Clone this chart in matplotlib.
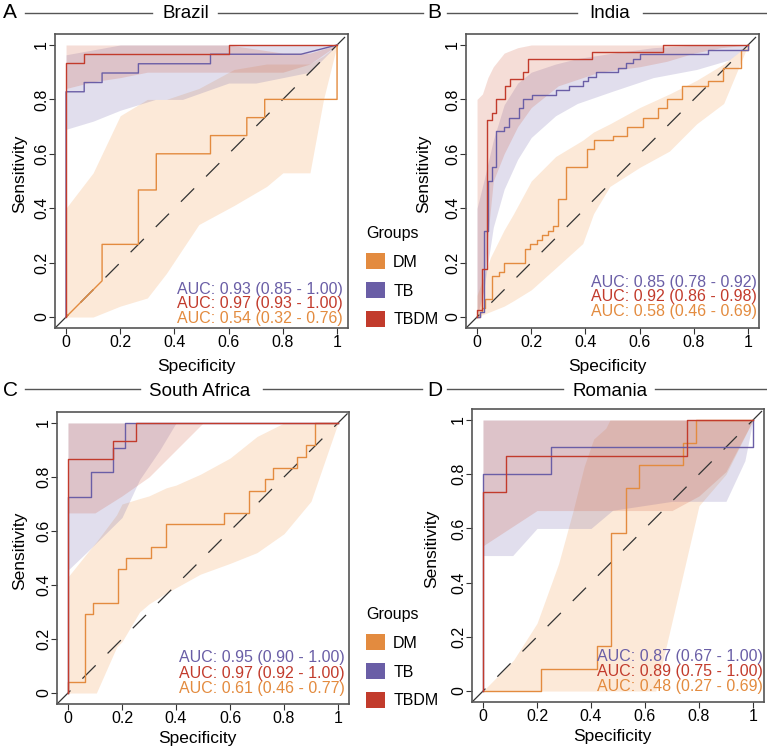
import matplotlib
matplotlib.use("Agg")
import matplotlib.pyplot as plt
from matplotlib.lines import Line2D
from matplotlib.patches import Patch

plt.rcParams["font.family"] = ["Liberation Sans", "DejaVu Sans"]

W, H = 767, 749
groups = ["DM", "TB", "TBDM"]
line_cols = {"DM": "#E38B3F", "TB": "#6A5EA6", "TBDM": "#C23B2C"}
fill_cols = {"DM": "#F0923F", "TB": "#6A5EA6", "TBDM": "#D0583A"}
tick_vals = [0, 0.2, 0.4, 0.6, 0.8, 1]
tick_labs = ["0", "0.2", "0.4", "0.6", "0.8", "1"]

# ---- Brazil ----
br_dm_fpr = [0, 0.133, 0.133, 0.267, 0.267, 0.333, 0.333, 0.533, 0.533, 0.667, 0.667, 0.733, 0.733, 1.0, 1.0]
br_dm_tpr = [0, 0.133, 0.267, 0.267, 0.467, 0.467, 0.6, 0.6, 0.667, 0.667, 0.733, 0.733, 0.8, 0.8, 1.0]
br_tb_fpr = [0, 0, 0.067, 0.067, 0.133, 0.133, 0.267, 0.267, 0.533, 0.533, 0.867, 1.0]
br_tb_tpr = [0, 0.828, 0.828, 0.862, 0.862, 0.897, 0.897, 0.931, 0.931, 0.966, 0.966, 1.0]
br_tbdm_fpr = [0, 0, 0.067, 0.067, 0.6, 0.6, 1.0]
br_tbdm_tpr = [0, 0.933, 0.933, 0.967, 0.967, 1.0, 1.0]
br_dm_ci_x = [0, 0.1, 0.2, 0.3, 0.37, 0.49, 0.62, 0.74, 0.8, 0.9, 0.95, 1.0]
br_dm_ci_lo = [0, 0, 0.04, 0.07, 0.16, 0.34, 0.41, 0.48, 0.53, 0.53, 0.8, 1.0]
br_dm_ci_hi = [0.40, 0.53, 0.74, 0.80, 0.80, 0.84, 0.91, 0.93, 0.93, 0.93, 0.96, 1.0]
br_tb_ci_x = [0, 0.1, 0.2, 0.33, 0.43, 0.6, 0.7, 0.8, 0.9, 1.0]
br_tb_ci_lo = [0.69, 0.72, 0.76, 0.80, 0.80, 0.86, 0.86, 0.88, 0.90, 1.0]
br_tb_ci_hi = [0.964, 0.982, 1.0, 1.0, 1.0, 1.0, 1.0, 1.0, 1.0, 1.0]
br_tbdm_ci_x = [0, 0.1, 0.2, 0.3, 0.5, 0.6, 0.8, 0.9, 1.0]
br_tbdm_ci_lo = [0.84, 0.865, 0.88, 0.9, 0.9, 0.9, 0.9, 0.93, 1.0]
br_tbdm_ci_hi = [1, 1, 1, 1, 1, 1, 0.97, 0.97, 1.0]
br_auc = {"TB": (0.93, 0.85, 1.00), "TBDM": (0.97, 0.93, 1.00), "DM": (0.54, 0.32, 0.76)}

# ---- India ----
in_dm_fpr = [0, 0.01, 0.01, 0.02, 0.02, 0.03, 0.03, 0.055, 0.055, 0.08, 0.08, 0.098, 0.098, 0.178, 0.178,
             0.196, 0.196, 0.22, 0.22, 0.24, 0.24, 0.26, 0.26, 0.28, 0.28, 0.3, 0.3, 0.33, 0.33, 0.405,
             0.405, 0.43, 0.43, 0.5, 0.5, 0.552, 0.552, 0.613, 0.613, 0.669, 0.669, 0.7, 0.7, 0.755,
             0.755, 0.853, 0.853, 0.908, 0.908, 0.975, 0.975, 1.0, 1.0]
in_dm_tpr = [0, 0, 0.017, 0.017, 0.033, 0.033, 0.067, 0.067, 0.15, 0.15, 0.167, 0.167, 0.2, 0.2, 0.25,
             0.25, 0.267, 0.267, 0.283, 0.283, 0.3, 0.3, 0.317, 0.317, 0.333, 0.333, 0.433, 0.433, 0.55, 0.55,
             0.617, 0.617, 0.65, 0.65, 0.667, 0.667, 0.7, 0.7, 0.733, 0.733, 0.767, 0.767, 0.8, 0.8,
             0.85, 0.85, 0.867, 0.867, 0.917, 0.917, 0.983, 0.983, 1.0]
in_tb_fpr = [0, 0.012, 0.012, 0.025, 0.025, 0.04, 0.04, 0.055, 0.055, 0.071, 0.071, 0.1, 0.1, 0.117, 0.117,
             0.153, 0.153, 0.17, 0.17, 0.202, 0.202, 0.29, 0.29, 0.34, 0.34, 0.39, 0.39, 0.41, 0.41, 0.44,
             0.44, 0.52, 0.52, 0.55, 0.55, 0.575, 0.575, 0.6, 0.6, 0.853, 0.853, 1.0, 1.0]
in_tb_tpr = [0, 0, 0.017, 0.017, 0.317, 0.317, 0.5, 0.5, 0.55, 0.55, 0.683, 0.683, 0.7, 0.7, 0.733,
             0.733, 0.767, 0.767, 0.8, 0.8, 0.817, 0.817, 0.833, 0.833, 0.85, 0.85, 0.867, 0.867, 0.883, 0.883,
             0.9, 0.9, 0.917, 0.917, 0.933, 0.933, 0.95, 0.95, 0.967, 0.967, 0.983, 0.983, 1.0]
in_tbdm_fpr = [0, 0, 0.018, 0.018, 0.037, 0.037, 0.055, 0.055, 0.071, 0.071, 0.104, 0.104, 0.12, 0.12,
               0.17, 0.17, 0.187, 0.187, 0.423, 0.423, 0.687, 0.687, 1.0]
in_tbdm_tpr = [0, 0.025, 0.025, 0.175, 0.175, 0.725, 0.725, 0.75, 0.75, 0.8, 0.8, 0.85, 0.85, 0.875,
               0.875, 0.9, 0.9, 0.95, 0.95, 0.975, 0.975, 1.0, 1.0]
in_dm_ci_x = [0, 0.05, 0.1, 0.135, 0.2, 0.29, 0.39, 0.43, 0.49, 0.6, 0.71, 0.81, 0.91, 1.0]
in_dm_ci_lo = [0, 0.02, 0.04, 0.06, 0.1, 0.18, 0.27, 0.38, 0.48, 0.55, 0.61, 0.71, 0.785, 1.0]
in_dm_ci_hi = [0.08, 0.22, 0.32, 0.38, 0.5, 0.59, 0.65, 0.68, 0.71, 0.77, 0.82, 0.87, 0.93, 1.0]
in_tb_ci_x = [0, 0.025, 0.06, 0.1, 0.15, 0.2, 0.29, 0.37, 0.5, 0.65, 0.81, 0.93, 1.0]
in_tb_ci_lo = [0, 0.1, 0.33, 0.47, 0.58, 0.66, 0.74, 0.785, 0.83, 0.88, 0.91, 0.945, 1.0]
in_tb_ci_hi = [0.4, 0.5, 0.65, 0.78, 0.86, 0.9, 0.93, 0.95, 0.97, 0.99, 1.0, 1.0, 1.0]
in_tbdm_ci_x = [0, 0.02, 0.04, 0.06, 0.1, 0.15, 0.2, 0.3, 0.45, 0.6, 0.7, 0.8, 0.9, 1.0]
in_tbdm_ci_lo = [0, 0.05, 0.3, 0.5, 0.6, 0.7, 0.77, 0.85, 0.9, 0.92, 0.94, 0.97, 0.99, 1.0]
in_tbdm_ci_hi = [0.8, 0.82, 0.88, 0.92, 0.97, 0.99, 1.0, 1, 1, 1, 1, 1, 1, 1]
in_auc = {"TB": (0.85, 0.78, 0.92), "TBDM": (0.92, 0.86, 0.98), "DM": (0.58, 0.46, 0.69)}

# ---- South Africa ----
sa_dm_fpr = [0, 0, 0.062, 0.062, 0.093, 0.093, 0.185, 0.185, 0.216, 0.216, 0.306, 0.306, 0.364, 0.364,
             0.578, 0.578, 0.67, 0.67, 0.728, 0.728, 0.759, 0.759, 0.849, 0.849, 0.88, 0.88, 0.914, 0.914, 1.0]
sa_dm_tpr = [0, 0.042, 0.042, 0.292, 0.292, 0.333, 0.333, 0.458, 0.458, 0.5, 0.5, 0.542, 0.542, 0.625,
             0.625, 0.667, 0.667, 0.75, 0.75, 0.792, 0.792, 0.833, 0.833, 0.875, 0.875, 0.917, 0.917, 1.0, 1.0]
sa_tb_fpr = [0, 0, 0.084, 0.084, 0.167, 0.167, 0.212, 0.212, 1.0]
sa_tb_tpr = [0, 0.727, 0.727, 0.818, 0.818, 0.909, 0.909, 1.0, 1.0]
sa_tbdm_fpr = [0, 0, 0.167, 0.167, 0.253, 0.253, 1.0]
sa_tbdm_tpr = [0, 0.867, 0.867, 0.933, 0.933, 1.0, 1.0]
sa_dm_ci_x = [0, 0.08, 0.105, 0.18, 0.2, 0.265, 0.3, 0.364, 0.4, 0.49, 0.6, 0.7, 0.8, 0.9, 1.0]
sa_dm_ci_lo = [0, 0, 0, 0.17, 0.19, 0.3, 0.33, 0.37, 0.39, 0.44, 0.48, 0.52, 0.59, 0.71, 1.0]
sa_dm_ci_hi = [0.43, 0.53, 0.56, 0.66, 0.7, 0.72, 0.73, 0.76, 0.77, 0.81, 0.87, 0.95, 1.0, 1.0, 1.0]
sa_tb_ci_x = [0, 0.068, 0.2, 0.265, 0.34, 0.4, 1.0]
sa_tb_ci_lo = [0.455, 0.52, 0.65, 0.79, 0.9, 1.0, 1.0]
sa_tb_ci_hi = [1, 1, 1, 1, 1, 1, 1]
sa_tbdm_ci_x = [0, 0.1, 0.2, 0.3, 0.37, 0.5, 1.0]
sa_tbdm_ci_lo = [0.667, 0.667, 0.73, 0.8, 0.87, 1.0, 1.0]
sa_tbdm_ci_hi = [1, 1, 1, 1, 1, 1, 1]
sa_auc = {"TB": (0.95, 0.90, 1.00), "TBDM": (0.97, 0.92, 1.00), "DM": (0.61, 0.46, 0.77)}

# ---- Romania ----
ro_dm_fpr = [0, 0.214, 0.214, 0.424, 0.424, 0.474, 0.474, 0.528, 0.528, 0.579, 0.579, 0.739, 0.739, 0.79, 0.79, 1.0]
ro_dm_tpr = [0, 0, 0.083, 0.083, 0.167, 0.167, 0.583, 0.583, 0.75, 0.75, 0.833, 0.833, 0.917, 0.917, 1.0, 1.0]
ro_tb_fpr = [0, 0, 0.251, 0.251, 1.0, 1.0]
ro_tb_tpr = [0, 0.8, 0.8, 0.9, 0.9, 1.0]
ro_tbdm_fpr = [0, 0, 0.084, 0.084, 0.754, 0.754, 1.0]
ro_tbdm_tpr = [0, 0.733, 0.733, 0.867, 0.867, 1.0, 1.0]
ro_dm_ci_x = [0, 0.113, 0.2, 0.28, 0.335, 0.375, 0.41, 0.455, 0.47, 0.64, 0.754, 0.8, 0.9, 1.0]
ro_dm_ci_lo = [0, 0, 0, 0, 0, 0, 0, 0, 0, 0, 0.487, 0.684, 0.8, 1.0]
ro_dm_ci_hi = [0, 0.114, 0.25, 0.47, 0.67, 0.83, 0.93, 0.97, 1.0, 1, 1, 1, 1, 1]
ro_tb_ci_x = [0, 0.11, 0.2, 0.4, 0.48, 0.7, 0.9, 0.97, 1.0]
ro_tb_ci_lo = [0.5, 0.5, 0.6, 0.6, 0.667, 0.7, 0.7, 0.85, 1.0]
ro_tb_ci_hi = [1, 1, 1, 1, 1, 1, 1, 1, 1]
ro_tbdm_ci_x = [0, 0.2, 0.7, 0.8, 0.9, 1.0]
ro_tbdm_ci_lo = [0.536, 0.666, 0.666, 0.72, 0.81, 1.0]
ro_tbdm_ci_hi = [1, 1, 1, 1, 1, 1]
ro_auc = {"TB": (0.87, 0.67, 1.00), "TBDM": (0.89, 0.75, 1.00), "DM": (0.48, 0.27, 0.69)}


def px_rect(left, top, w, h):
    return [left / W, 1 - (top + h) / H, w / W, h / H]


def fx(x):
    return x / W


def fy(y):
    return 1 - y / H


fig = plt.figure(figsize=(W / 100, H / 100), dpi=100)

panels = [
    # rect (px), curves, bands, auc, auc text x / ys, ylabel x px, xlabel y px
    ((55.2, 34.1, 292.7, 293.8),
     {"DM": (br_dm_fpr, br_dm_tpr), "TB": (br_tb_fpr, br_tb_tpr), "TBDM": (br_tbdm_fpr, br_tbdm_tpr)},
     {"DM": (br_dm_ci_x, br_dm_ci_lo, br_dm_ci_hi), "TB": (br_tb_ci_x, br_tb_ci_lo, br_tb_ci_hi),
      "TBDM": (br_tbdm_ci_x, br_tbdm_ci_lo, br_tbdm_ci_hi)},
     br_auc, (1.022, [0.1, 0.048, -0.005]), 20, 366),
    ((466.2, 34.1, 292.7, 293.8),
     {"DM": (in_dm_fpr, in_dm_tpr), "TB": (in_tb_fpr, in_tb_tpr), "TBDM": (in_tbdm_fpr, in_tbdm_tpr)},
     {"DM": (in_dm_ci_x, in_dm_ci_lo, in_dm_ci_hi), "TB": (in_tb_ci_x, in_tb_ci_lo, in_tb_ci_hi),
      "TBDM": (in_tbdm_ci_x, in_tbdm_ci_lo, in_tbdm_ci_hi)},
     in_auc, (1.033, [0.127, 0.074, 0.02]), 424, 366),
    ((57.2, 412.2, 291.6, 291.6),
     {"DM": (sa_dm_fpr, sa_dm_tpr), "TB": (sa_tb_fpr, sa_tb_tpr), "TBDM": (sa_tbdm_fpr, sa_tbdm_tpr)},
     {"DM": (sa_dm_ci_x, sa_dm_ci_lo, sa_dm_ci_hi), "TB": (sa_tb_ci_x, sa_tb_ci_lo, sa_tb_ci_hi),
      "TBDM": (sa_tbdm_ci_x, sa_tbdm_ci_lo, sa_tbdm_ci_hi)},
     sa_auc, (1.026, [0.133, 0.074, 0.015]), 20, 738),
    ((472.2, 409.2, 291.6, 292.7),
     {"DM": (ro_dm_fpr, ro_dm_tpr), "TB": (ro_tb_fpr, ro_tb_tpr), "TBDM": (ro_tbdm_fpr, ro_tbdm_tpr)},
     {"DM": (ro_dm_ci_x, ro_dm_ci_lo, ro_dm_ci_hi), "TB": (ro_tb_ci_x, ro_tb_ci_lo, ro_tb_ci_hi),
      "TBDM": (ro_tbdm_ci_x, ro_tbdm_ci_lo, ro_tbdm_ci_hi)},
     ro_auc, (1.037, [0.129, 0.074, 0.018]), 432, 736),
]

for rect, curves, bands, auc, (tx, tys), ylab_x, xlab_y in panels:
    ax = fig.add_axes(px_rect(*rect))
    for g in groups:
        bx, lo, hi = bands[g]
        ax.fill_between(bx, lo, hi, color=fill_cols[g], alpha=0.2, lw=0, zorder=1)
    ax.axline((0, 0), (1, 1), color="#333333", lw=0.9, dashes=(15, 13.5), zorder=2)
    for g in groups:
        fpr, tpr = curves[g]
        ax.plot(fpr, tpr, color=line_cols[g], lw=1.0, zorder=3)
    for g, ty in zip(["TB", "TBDM", "DM"], tys):
        a, lo, hi = auc[g]
        ax.text(tx, ty, f"AUC: {a:.2f} ({lo:.2f} - {hi:.2f})", ha="right", va="center",
                color=line_cols[g], fontsize=11.5, zorder=4)
    ax.set_xlim(-0.04, 1.04)
    ax.set_ylim(-0.04, 1.04)
    ax.set_xticks(tick_vals)
    ax.set_xticklabels(tick_labs)
    ax.set_yticks(tick_vals)
    ax.set_yticklabels(tick_labs, rotation=90, va="center")
    ax.tick_params(direction="out", length=4, width=0.8, color="#333333", labelsize=11.5)
    ax.tick_params(axis="x", pad=1)
    ax.tick_params(axis="y", pad=0.5)
    for s in ax.spines.values():
        s.set_color("#555555")
        s.set_linewidth(1.2)
    x0, y0, w, h = rect
    ax.set_ylabel("Sensitivity", fontsize=12.5, va="center", ha="center")
    ax.yaxis.set_label_coords((ylab_x - x0) / w, 0.523)
    ax.set_xlabel("Specificity", fontsize=12.5, va="center", ha="center")
    ax.xaxis.set_label_coords(0.481, (y0 + h - xlab_y) / h)

# title rows
row_base = [18, 396]
row_line = [13, 389]
row_segments = [[(25, 152), (218, 423), (447, 577), (643, 767)],
                [(25, 140), (263, 422), (447, 563), (655, 767)]]
row_letters = [[("A", 10), ("B", 434)], [("C", 10.5), ("D", 434.5)]]
row_names = [[("Brazil", 186), ("India", 610)], [("South Africa", 200), ("Romania", 610)]]

for r in range(2):
    for a, b in row_segments[r]:
        fig.add_artist(Line2D([fx(a), fx(b)], [fy(row_line[r])] * 2, color="#555555", lw=1.0))
    for lab, x in row_letters[r]:
        fig.text(fx(x), fy(row_base[r]), lab, ha="center", va="baseline", fontsize=15)
    for name, x in row_names[r]:
        fig.text(fx(x), fy(row_base[r]), name, ha="center", va="baseline", fontsize=13.5)

# legends
handles = [Patch(facecolor=line_cols[g], edgecolor="none") for g in groups]
for top in (226, 607):
    fig.legend(handles, groups, title="Groups", loc="upper left",
               bbox_to_anchor=(fx(366), fy(top)), frameon=False,
               fontsize=11.5, title_fontsize=11.5, handlelength=1.2,
               handleheight=1.15, handletextpad=0.5, labelspacing=0.78,
               borderpad=0, borderaxespad=0, alignment="left")

fig.savefig("out.png", dpi=100)
